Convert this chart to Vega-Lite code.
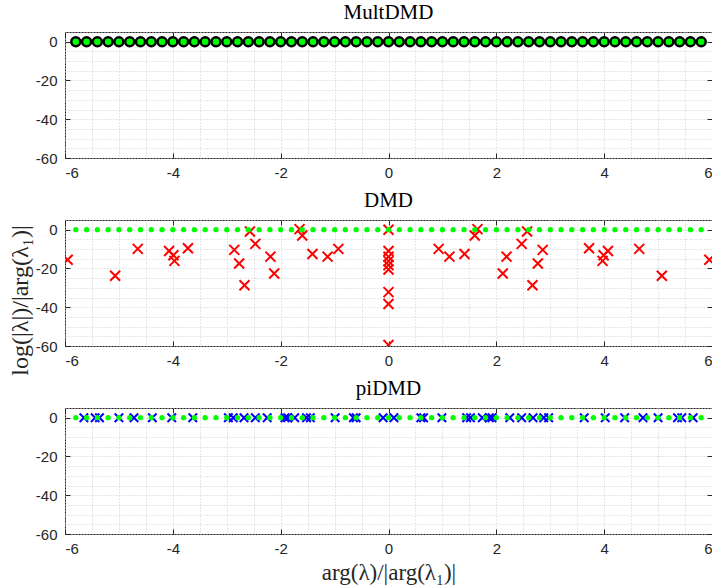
{
  "$schema": "https://vega.github.io/schema/vega-lite/v6.json",
  "padding": {"left": 7, "top": 1, "right": 0, "bottom": 2},
  "spacing": 62,
  "bounds": "flush",
  "background": "white",
  "datasets": {
    "dots": [
      {"x": -5.8, "y": 0}, {"x": -5.6, "y": 0}, {"x": -5.4, "y": 0}, {"x": -5.2, "y": 0}, {"x": -5.0, "y": 0},
      {"x": -4.8, "y": 0}, {"x": -4.6, "y": 0}, {"x": -4.4, "y": 0}, {"x": -4.2, "y": 0}, {"x": -4.0, "y": 0},
      {"x": -3.8, "y": 0}, {"x": -3.6, "y": 0}, {"x": -3.4, "y": 0}, {"x": -3.2, "y": 0}, {"x": -3.0, "y": 0},
      {"x": -2.8, "y": 0}, {"x": -2.6, "y": 0}, {"x": -2.4, "y": 0}, {"x": -2.2, "y": 0}, {"x": -2.0, "y": 0},
      {"x": -1.8, "y": 0}, {"x": -1.6, "y": 0}, {"x": -1.4, "y": 0}, {"x": -1.2, "y": 0}, {"x": -1.0, "y": 0},
      {"x": -0.8, "y": 0}, {"x": -0.6, "y": 0}, {"x": -0.4, "y": 0}, {"x": -0.2, "y": 0}, {"x": 0.0, "y": 0},
      {"x": 0.2, "y": 0}, {"x": 0.4, "y": 0}, {"x": 0.6, "y": 0}, {"x": 0.8, "y": 0}, {"x": 1.0, "y": 0},
      {"x": 1.2, "y": 0}, {"x": 1.4, "y": 0}, {"x": 1.6, "y": 0}, {"x": 1.8, "y": 0}, {"x": 2.0, "y": 0},
      {"x": 2.2, "y": 0}, {"x": 2.4, "y": 0}, {"x": 2.6, "y": 0}, {"x": 2.8, "y": 0}, {"x": 3.0, "y": 0},
      {"x": 3.2, "y": 0}, {"x": 3.4, "y": 0}, {"x": 3.6, "y": 0}, {"x": 3.8, "y": 0}, {"x": 4.0, "y": 0},
      {"x": 4.2, "y": 0}, {"x": 4.4, "y": 0}, {"x": 4.6, "y": 0}, {"x": 4.8, "y": 0}, {"x": 5.0, "y": 0},
      {"x": 5.2, "y": 0}, {"x": 5.4, "y": 0}, {"x": 5.6, "y": 0}, {"x": 5.8, "y": 0}
    ],
    "dmd": [
      {"x": -5.95, "y": -15.5}, {"x": 5.95, "y": -15.5},
      {"x": -5.07, "y": -23.8}, {"x": 5.07, "y": -23.8},
      {"x": -4.65, "y": -9.9}, {"x": 4.65, "y": -9.9},
      {"x": -4.07, "y": -11}, {"x": 4.07, "y": -11},
      {"x": -3.99, "y": -13.2}, {"x": 3.99, "y": -13.2},
      {"x": -3.97, "y": -16.1}, {"x": 3.97, "y": -16.1},
      {"x": -3.72, "y": -9.6}, {"x": 3.72, "y": -9.6},
      {"x": -2.86, "y": -10.4}, {"x": 2.86, "y": -10.4},
      {"x": -2.77, "y": -17.4}, {"x": 2.77, "y": -17.4},
      {"x": -2.67, "y": -28.7}, {"x": 2.67, "y": -28.7},
      {"x": -2.57, "y": -0.9}, {"x": 2.57, "y": -0.9},
      {"x": -2.47, "y": -7.3}, {"x": 2.47, "y": -7.3},
      {"x": -2.19, "y": -13.9}, {"x": 2.19, "y": -13.9},
      {"x": -2.12, "y": -22.6}, {"x": 2.12, "y": -22.6},
      {"x": -1.65, "y": 0.3}, {"x": 1.65, "y": 0.3},
      {"x": -1.6, "y": -3}, {"x": 1.6, "y": -3},
      {"x": -1.41, "y": -12.5}, {"x": 1.41, "y": -12.5},
      {"x": -1.13, "y": -13.9}, {"x": 1.13, "y": -13.9},
      {"x": -0.93, "y": -9.9}, {"x": 0.93, "y": -9.9},
      {"x": 0, "y": 0}, {"x": 0, "y": -11}, {"x": 0, "y": -14}, {"x": 0, "y": -16.2},
      {"x": 0, "y": -18.3}, {"x": 0, "y": -20.5}, {"x": 0, "y": -32.2}, {"x": 0, "y": -38.3}, {"x": 0, "y": -59.5}
    ],
    "pidmd": [
      {"x": -5.65, "y": 0}, {"x": 5.65, "y": 0},
      {"x": -5.44, "y": 0}, {"x": 5.44, "y": 0},
      {"x": -5.36, "y": 0}, {"x": 5.36, "y": 0},
      {"x": -5.0, "y": 0}, {"x": 5.0, "y": 0},
      {"x": -4.72, "y": 0}, {"x": 4.72, "y": 0},
      {"x": -4.38, "y": 0}, {"x": 4.38, "y": 0},
      {"x": -4.02, "y": 0}, {"x": 4.02, "y": 0},
      {"x": -3.63, "y": 0}, {"x": 3.63, "y": 0},
      {"x": -2.97, "y": 0}, {"x": 2.97, "y": 0},
      {"x": -2.88, "y": 0}, {"x": 2.88, "y": 0},
      {"x": -2.68, "y": 0}, {"x": 2.68, "y": 0},
      {"x": -2.47, "y": 0}, {"x": 2.47, "y": 0},
      {"x": -2.25, "y": 0}, {"x": 2.25, "y": 0},
      {"x": -1.92, "y": 0}, {"x": 1.92, "y": 0},
      {"x": -1.87, "y": 0}, {"x": 1.87, "y": 0},
      {"x": -1.74, "y": 0}, {"x": 1.74, "y": 0},
      {"x": -1.52, "y": 0}, {"x": 1.52, "y": 0},
      {"x": -1.45, "y": 0}, {"x": 1.45, "y": 0},
      {"x": -0.99, "y": 0}, {"x": 0.99, "y": 0},
      {"x": -0.65, "y": 0}, {"x": 0.65, "y": 0},
      {"x": -0.6, "y": 0}, {"x": 0.6, "y": 0},
      {"x": -0.1, "y": 0}, {"x": 0.1, "y": 0}
    ]
  },
  "vconcat": [
    {
      "width": 647, "height": 126,
      "title": "MultDMD",
      "layer": [
        {
          "data": {"name": "dots"},
          "mark": {"type": "point", "opacity": 0},
          "encoding": {
            "x": {"field": "x", "type": "quantitative", "scale": {"domain": [-6, 6], "nice": false, "zero": false},
              "axis": {"orient": "bottom", "values": [-6,-5.5,-5,-4.5,-4,-3.5,-3,-2.5,-2,-1.5,-1,-0.5,0,0.5,1,1.5,2,2.5,3,3.5,4,4.5,5,5.5,6], "grid": true, "gridDash": [1, 2], "gridColor": "#cccccc", "labels": false, "ticks": false, "domain": false, "title": null}},
            "y": {"field": "y", "type": "quantitative", "scale": {"domain": [-60, 5], "nice": false, "zero": false},
              "axis": {"orient": "left", "values": [-60,-55,-50,-45,-40,-35,-30,-25,-20,-15,-10,-5,0,5], "grid": true, "gridDash": [1, 2], "gridColor": "#cccccc", "labels": false, "ticks": false, "domain": false, "title": null}}
          }
        },
        {
          "data": {"name": "dots"},
          "mark": {"type": "point", "opacity": 0},
          "encoding": {
            "x": {"field": "x", "type": "quantitative", "axis": {"orient": "top", "values": [-6,-4,-2,0,2,4,6], "labels": false, "tickSize": -5, "grid": false, "domain": false, "title": null}},
            "y": {"field": "y", "type": "quantitative", "axis": {"orient": "right", "values": [-60,-40,-20,0], "labels": false, "tickSize": -5, "grid": false, "domain": false, "title": null}}
          }
        },
        {
          "data": {"name": "dots"},
          "mark": {"type": "point", "shape": "circle", "filled": true, "fill": "#00ff00", "stroke": "#000000", "strokeWidth": 2.5, "size": 81, "opacity": 1},
          "encoding": {
            "x": {"field": "x", "type": "quantitative", "axis": {"orient": "bottom", "values": [-6,-4,-2,0,2,4,6], "tickSize": -5, "labelPadding": 12, "labelExpr": "'' + datum.value", "grid": false, "domain": false, "title": null}},
            "y": {"field": "y", "type": "quantitative", "axis": {"orient": "left", "values": [-60,-40,-20,0], "tickSize": -5, "labelPadding": 13, "labelExpr": "'' + datum.value", "grid": false, "domain": false, "title": null}}
          }
        }
      ],
      "resolve": {"axis": {"x": "independent", "y": "independent"}}
    },
    {
      "width": 647, "height": 126,
      "title": "DMD",
      "layer": [
        {
          "data": {"name": "dots"},
          "mark": {"type": "point", "opacity": 0},
          "encoding": {
            "x": {"field": "x", "type": "quantitative", "scale": {"domain": [-6, 6], "nice": false, "zero": false},
              "axis": {"orient": "bottom", "values": [-6,-5.5,-5,-4.5,-4,-3.5,-3,-2.5,-2,-1.5,-1,-0.5,0,0.5,1,1.5,2,2.5,3,3.5,4,4.5,5,5.5,6], "grid": true, "gridDash": [1, 2], "gridColor": "#cccccc", "labels": false, "ticks": false, "domain": false, "title": null}},
            "y": {"field": "y", "type": "quantitative", "scale": {"domain": [-60, 5], "nice": false, "zero": false},
              "axis": {"orient": "left", "values": [-60,-55,-50,-45,-40,-35,-30,-25,-20,-15,-10,-5,0,5], "grid": true, "gridDash": [1, 2], "gridColor": "#cccccc", "labels": false, "ticks": false, "domain": false, "title": null}}
          }
        },
        {
          "data": {"name": "dots"},
          "mark": {"type": "point", "opacity": 0},
          "encoding": {
            "x": {"field": "x", "type": "quantitative", "axis": {"orient": "top", "values": [-6,-4,-2,0,2,4,6], "labels": false, "tickSize": -5, "grid": false, "domain": false, "title": null}},
            "y": {"field": "y", "type": "quantitative", "axis": {"orient": "right", "values": [-60,-40,-20,0], "labels": false, "tickSize": -5, "grid": false, "domain": false, "title": null}}
          }
        },
        {
          "data": {"name": "dmd"},
          "mark": {"type": "point", "shape": "M-1,-1L1,1M-1,1L1,-1", "filled": false, "stroke": "#ff0000", "strokeWidth": 2, "size": 100, "opacity": 1, "clip": true},
          "encoding": {
            "x": {"field": "x", "type": "quantitative", "axis": null},
            "y": {"field": "y", "type": "quantitative", "axis": null}
          }
        },
        {
          "data": {"name": "dots"},
          "mark": {"type": "point", "shape": "circle", "filled": true, "fill": "#00ff00", "strokeWidth": 0, "size": 28, "opacity": 1},
          "encoding": {
            "x": {"field": "x", "type": "quantitative", "axis": {"orient": "bottom", "values": [-6,-4,-2,0,2,4,6], "tickSize": -5, "labelPadding": 12, "labelExpr": "'' + datum.value", "grid": false, "domain": false, "title": null}},
            "y": {"field": "y", "type": "quantitative", "axis": {"orient": "left", "values": [-60,-40,-20,0], "tickSize": -5, "labelPadding": 13, "labelExpr": "'' + datum.value", "grid": false, "domain": false,
              "title": "log(|λ|)/|arg(λ₁)|", "titleFontSize": 24, "titleX": -33, "titleY": 80, "titleAngle": -90, "titleAlign": "center", "titleBaseline": "bottom"}}
          }
        }
      ],
      "resolve": {"axis": {"x": "independent", "y": "independent"}}
    },
    {
      "width": 647, "height": 126,
      "title": "piDMD",
      "layer": [
        {
          "data": {"name": "dots"},
          "mark": {"type": "point", "opacity": 0},
          "encoding": {
            "x": {"field": "x", "type": "quantitative", "scale": {"domain": [-6, 6], "nice": false, "zero": false},
              "axis": {"orient": "bottom", "values": [-6,-5.5,-5,-4.5,-4,-3.5,-3,-2.5,-2,-1.5,-1,-0.5,0,0.5,1,1.5,2,2.5,3,3.5,4,4.5,5,5.5,6], "grid": true, "gridDash": [1, 2], "gridColor": "#cccccc", "labels": false, "ticks": false, "domain": false, "title": null}},
            "y": {"field": "y", "type": "quantitative", "scale": {"domain": [-60, 5], "nice": false, "zero": false},
              "axis": {"orient": "left", "values": [-60,-55,-50,-45,-40,-35,-30,-25,-20,-15,-10,-5,0,5], "grid": true, "gridDash": [1, 2], "gridColor": "#cccccc", "labels": false, "ticks": false, "domain": false, "title": null}}
          }
        },
        {
          "data": {"name": "dots"},
          "mark": {"type": "point", "opacity": 0},
          "encoding": {
            "x": {"field": "x", "type": "quantitative", "axis": {"orient": "top", "values": [-6,-4,-2,0,2,4,6], "labels": false, "tickSize": -5, "grid": false, "domain": false, "title": null}},
            "y": {"field": "y", "type": "quantitative", "axis": {"orient": "right", "values": [-60,-40,-20,0], "labels": false, "tickSize": -5, "grid": false, "domain": false, "title": null}}
          }
        },
        {
          "data": {"name": "pidmd"},
          "mark": {"type": "point", "shape": "M-1,-1L1,1M-1,1L1,-1", "filled": false, "stroke": "#0000ff", "strokeWidth": 2, "size": 72, "opacity": 1, "clip": true},
          "encoding": {
            "x": {"field": "x", "type": "quantitative", "axis": null},
            "y": {"field": "y", "type": "quantitative", "axis": null}
          }
        },
        {
          "data": {"name": "dots"},
          "mark": {"type": "point", "shape": "circle", "filled": true, "fill": "#00ff00", "strokeWidth": 0, "size": 28, "opacity": 1},
          "encoding": {
            "x": {"field": "x", "type": "quantitative", "axis": {"orient": "bottom", "values": [-6,-4,-2,0,2,4,6], "tickSize": -5, "labelPadding": 12, "labelExpr": "'' + datum.value", "grid": false, "domain": false,
              "title": "arg(λ)/|arg(λ₁)|", "titleFontSize": 23, "titlePadding": 5}},
            "y": {"field": "y", "type": "quantitative", "axis": {"orient": "left", "values": [-60,-40,-20,0], "tickSize": -5, "labelPadding": 13, "labelExpr": "'' + datum.value", "grid": false, "domain": false, "title": null}}
          }
        }
      ],
      "resolve": {"axis": {"x": "independent", "y": "independent"}}
    }
  ],
  "config": {
    "view": {"stroke": "#262626", "strokeWidth": 1},
    "axis": {"labelFont": "Liberation Sans", "labelFontSize": 15, "labelColor": "#262626", "tickColor": "#262626", "tickWidth": 1,
      "titleFont": "Liberation Serif", "titleFontSize": 21, "titleFontWeight": "normal", "titleColor": "#262626"},
    "title": {"font": "Liberation Serif", "fontSize": 21, "fontWeight": "normal", "color": "#000000", "offset": 9, "anchor": "middle"}
  }
}
